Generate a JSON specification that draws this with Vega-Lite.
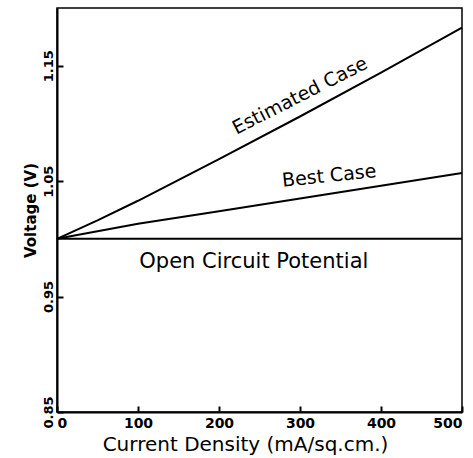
{
  "$schema": "https://vega.github.io/schema/vega-lite/v6.json",
  "width": 405,
  "height": 404,
  "autosize": {"type": "none"},
  "padding": {"left": 57, "top": 8, "right": 11, "bottom": 46},
  "background": "white",
  "config": {
    "view": {"stroke": "black", "strokeWidth": 1.5},
    "font": "DejaVu Sans",
    "axis": {
      "domainColor": "black", "domainWidth": 2,
      "ticks": true, "tickColor": "black", "tickWidth": 2, "tickSize": -6,
      "labelColor": "black", "titleColor": "black",
      "grid": false, "labelFont": "DejaVu Sans", "titleFont": "DejaVu Sans"
    }
  },
  "datasets": {
    "curves": [
      {"case": "Estimated", "cd": 0, "v": 1.0},
      {"case": "Estimated", "cd": 50, "v": 1.016},
      {"case": "Estimated", "cd": 100, "v": 1.033},
      {"case": "Estimated", "cd": 200, "v": 1.069},
      {"case": "Estimated", "cd": 300, "v": 1.106},
      {"case": "Estimated", "cd": 400, "v": 1.144},
      {"case": "Estimated", "cd": 500, "v": 1.183},
      {"case": "Best", "cd": 0, "v": 1.0},
      {"case": "Best", "cd": 100, "v": 1.013},
      {"case": "Best", "cd": 200, "v": 1.024},
      {"case": "Best", "cd": 300, "v": 1.035},
      {"case": "Best", "cd": 400, "v": 1.046},
      {"case": "Best", "cd": 500, "v": 1.057},
      {"case": "Open", "cd": 0, "v": 1.0},
      {"case": "Open", "cd": 500, "v": 1.0}
    ]
  },
  "encoding": {
    "x": {
      "field": "cd", "type": "quantitative",
      "scale": {"domain": [0, 500], "nice": false},
      "axis": {
        "values": [0, 100, 200, 300, 400, 500],
        "title": "Current Density (mA/sq.cm.)",
        "titleFontSize": 20, "titleFontWeight": "normal",
        "labelFontSize": 14, "labelFontWeight": "bold",
        "ticks": true, "tickSize": -6, "labelPadding": 10, "titlePadding": 4,
        "titleX": 188, "titleAnchor": "middle",
        "labelFlush": true
      }
    },
    "y": {
      "field": "v", "type": "quantitative",
      "scale": {"domain": [0.85, 1.2], "nice": false, "zero": false},
      "axis": {
        "values": [0.85, 0.95, 1.05, 1.15],
        "format": ".2f",
        "title": "Voltage (V)",
        "titleFontSize": 15, "titleFontWeight": "bold",
        "labelFontSize": 13, "labelFontWeight": "bold",
        "labelAngle": -90, "labelAlign": "center", "labelBaseline": "bottom",
        "ticks": true, "tickSize": -6, "labelPadding": 8, "titlePadding": 4,
        "labelFlush": true
      }
    }
  },
  "layer": [
    {
      "data": {"name": "curves"},
      "mark": {"type": "line", "color": "black", "strokeWidth": 2},
      "encoding": {"detail": {"field": "case"}}
    },
    {
      "data": {"values": [{"cd": 300, "v": 1.124, "label": "Estimated Case"}]},
      "mark": {"type": "text", "angle": -27, "fontSize": 19, "font": "DejaVu Sans", "color": "black"},
      "encoding": {"text": {"field": "label"}}
    },
    {
      "data": {"values": [{"cd": 336, "v": 1.0545, "label": "Best Case"}]},
      "mark": {"type": "text", "angle": -6, "fontSize": 19, "font": "DejaVu Sans", "color": "black"},
      "encoding": {"text": {"field": "label"}}
    },
    {
      "data": {"values": [{"cd": 243, "v": 0.98, "label": "Open Circuit Potential"}]},
      "mark": {"type": "text", "angle": 0, "fontSize": 21, "font": "DejaVu Sans", "color": "black"},
      "encoding": {"text": {"field": "label"}}
    }
  ]
}
